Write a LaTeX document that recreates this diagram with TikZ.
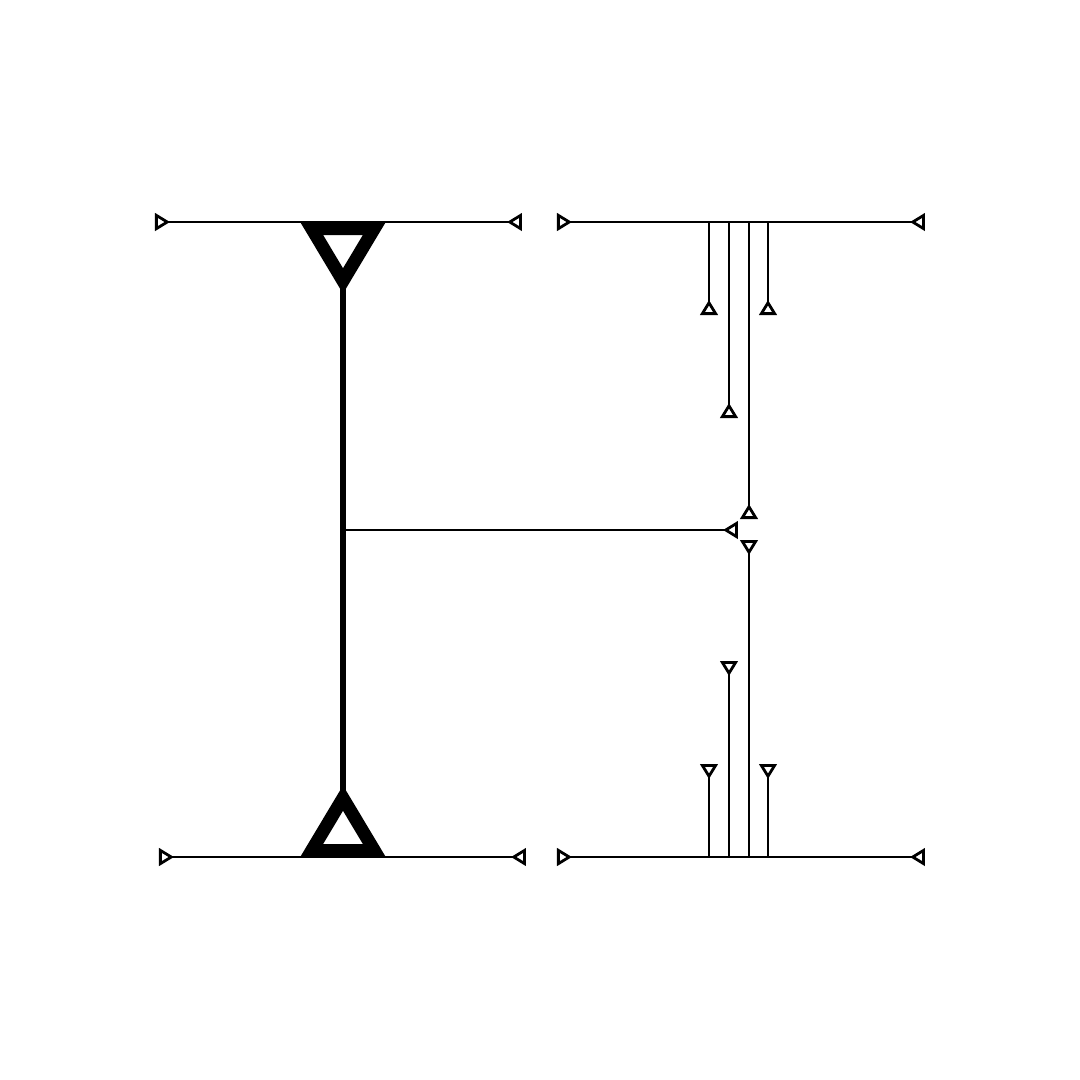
\documentclass[tikz,border=0pt]{standalone}
\usepackage{tikz}
\usetikzlibrary{arrows.meta}
\tikzset{
  rtri/.tip={Triangle[open, reversed, length=1.5mm, width=1.75mm, line width=0.28mm]},
  bigtri/.tip={Triangle[open, reversed, length=7.2mm, width=8.2mm, line width=1.3mm]},
  wire/.style={line width=0.19mm, color=black},
  trunk/.style={line width=0.55mm, color=black}
}
\begin{document}
\begin{tikzpicture}[x=0.1mm, y=-0.1mm]
  \useasboundingbox (0,0) rectangle (1080,1080);
  % Left frame
  \coordinate (ltopA) at (155,222);  \coordinate (ltopB) at (522,222);
  \coordinate (lbotA) at (159,857);  \coordinate (lbotB) at (526,857);
  \coordinate (trunkT) at (343,222); \coordinate (trunkB) at (343,857);
  \coordinate (trunkM) at (343,530); \coordinate (midR) at (738,530);
  \draw[wire, {rtri}-{rtri}] (ltopA) -- (ltopB);
  \draw[wire, {rtri}-{rtri}] (lbotA) -- (lbotB);
  \draw[trunk, {bigtri}-{bigtri}] (trunkT) -- (trunkB);
  \draw[wire, -{rtri}] (trunkM) -- (midR);
  % Right frame
  \coordinate (rtopA) at (557,222);  \coordinate (rtopB) at (925,222);
  \coordinate (rbotA) at (557,857);  \coordinate (rbotB) at (925,857);
  \draw[wire, {rtri}-{rtri}] (rtopA) -- (rtopB);
  \draw[wire, {rtri}-{rtri}] (rbotA) -- (rbotB);
  % Drops from the top
  \coordinate (dA) at (709,315); \coordinate (dB) at (729,418);
  \coordinate (dC) at (749,519); \coordinate (dD) at (768,315);
  \draw[wire, -{rtri}] (709,222) -- (dA);
  \draw[wire, -{rtri}] (729,222) -- (dB);
  \draw[wire, -{rtri}] (749,222) -- (dC);
  \draw[wire, -{rtri}] (768,222) -- (dD);
  % Risers from the bottom
  \coordinate (uA) at (709,764); \coordinate (uB) at (729,661);
  \coordinate (uC) at (749,540); \coordinate (uD) at (768,764);
  \draw[wire, -{rtri}] (709,857) -- (uA);
  \draw[wire, -{rtri}] (729,857) -- (uB);
  \draw[wire, -{rtri}] (749,857) -- (uC);
  \draw[wire, -{rtri}] (768,857) -- (uD);
\end{tikzpicture}
\end{document}
